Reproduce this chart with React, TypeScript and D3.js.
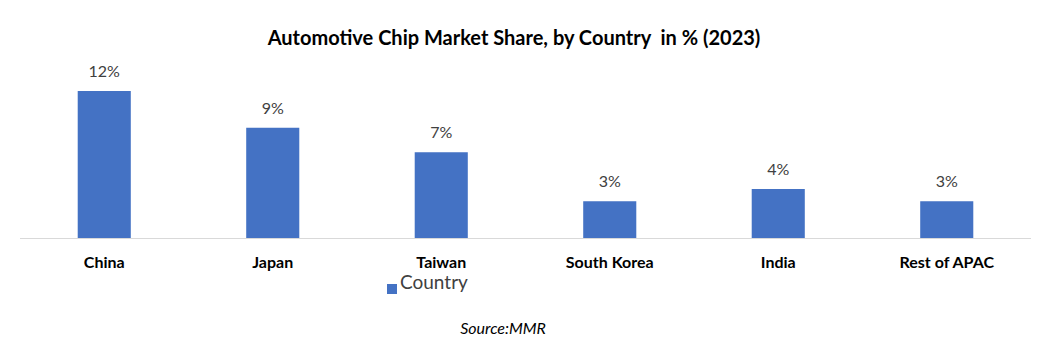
import * as d3 from "d3";
import { useEffect, useRef } from "react";

const countries = ["China", "Japan", "Taiwan", "South Korea", "India", "Rest of APAC"];
const shares = [12, 9, 7, 3, 4, 3];
const seriesName = "Country";
const title = "Automotive Chip Market Share, by Country  in % (2023)";
const source = "Source:MMR";

const W = 1056, H = 351;
const BLUE = "#4472C4";
const FONT = "Lato, 'Open Sans', sans-serif";

const App = () => {
    const ref = useRef<SVGSVGElement>(null);

    useEffect(() => {
        const svg = d3.select(ref.current);
        svg.selectAll("*").remove();

        const margin = { left: 20, right: 25 };
        const baseY = 238;

        const x = d3.scaleBand<string>()
            .domain(countries)
            .range([margin.left, W - margin.right])
            .paddingInner(0.685)
            .paddingOuter(0.3425);
        const y = d3.scaleLinear().domain([0, 12]).range([baseY, 91]);

        // title (keeps the double space)
        svg.append("text")
            .attr("x", 514).attr("y", 45)
            .attr("text-anchor", "middle")
            .attr("font-family", FONT)
            .attr("font-weight", "bold")
            .attr("font-size", 20)
            .attr("fill", "#000")
            .style("white-space", "pre")
            .text(title);

        // baseline
        svg.append("line")
            .attr("x1", margin.left).attr("x2", W - margin.right)
            .attr("y1", baseY + 0.5).attr("y2", baseY + 0.5)
            .attr("stroke", "#d9d9d9").attr("stroke-width", 1);

        svg.append("g").selectAll("rect")
            .data(shares)
            .enter().append("rect")
            .attr("x", (d, i) => x(countries[i]))
            .attr("y", d => y(d))
            .attr("width", x.bandwidth())
            .attr("height", d => baseY - y(d))
            .attr("fill", BLUE);

        svg.append("g").selectAll("text")
            .data(shares)
            .enter().append("text")
            .attr("x", (d, i) => x(countries[i]) + x.bandwidth() / 2)
            .attr("y", d => y(d) - 14)
            .attr("text-anchor", "middle")
            .attr("font-family", FONT)
            .attr("font-size", 16)
            .attr("fill", "#404040")
            .text(d => d + "%");

        const xAxis = d3.axisBottom(x).tickSize(0).tickPadding(0);
        const ax = svg.append("g").attr("transform", "translate(0," + baseY + ")").call(xAxis);
        ax.select(".domain").remove();
        ax.selectAll("text")
            .attr("y", 30)
            .attr("dy", 0)
            .attr("font-family", FONT)
            .attr("font-weight", "bold")
            .attr("font-size", 16)
            .attr("fill", "#000");

        // legend
        svg.append("rect")
            .attr("x", 387).attr("y", 284)
            .attr("width", 10).attr("height", 10)
            .attr("fill", BLUE);
        svg.append("text")
            .attr("x", 400).attr("y", 289)
            .attr("font-family", FONT)
            .attr("font-size", 19)
            .attr("fill", "#404040")
            .text(seriesName);

        svg.append("text")
            .attr("x", 503).attr("y", 334)
            .attr("text-anchor", "middle")
            .attr("font-family", FONT)
            .attr("font-style", "italic")
            .attr("font-size", 16)
            .attr("fill", "#000")
            .text(source);
    }, []);

    return (
        <svg ref={ref} width={W} height={H} style={{ position: "absolute", left: 0, top: 0, background: "#fff" }} />
    );
};

export default App;
